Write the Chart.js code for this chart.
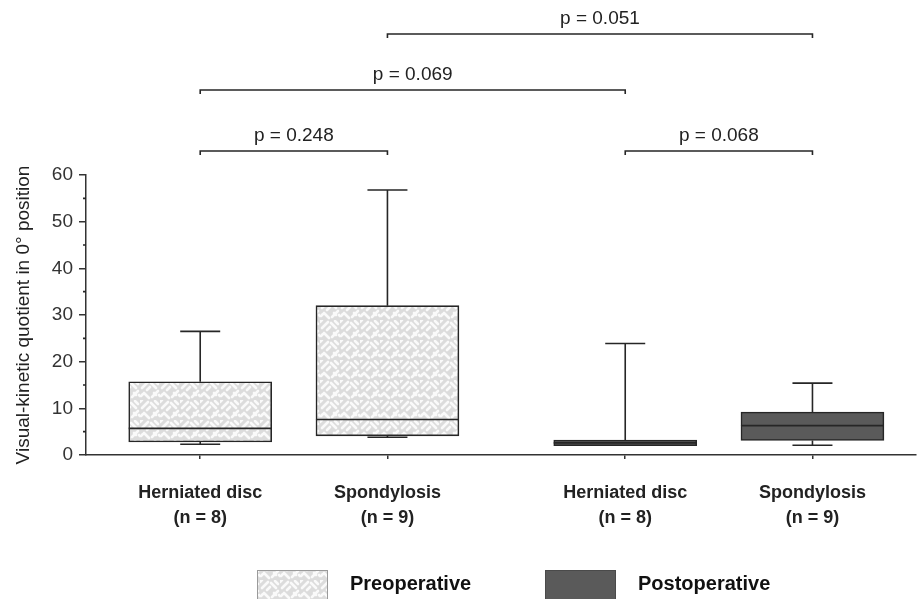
<!DOCTYPE html>
<html>
<head>
<meta charset="utf-8">
<title>Visual-kinetic quotient in 0° position</title>
<script src="https://cdn.jsdelivr.net/npm/chart.js"></script>
<style>
  html, body { margin: 0; padding: 0; background: #fff; }
</style>
</head>
<body>
<canvas id="boxChart" width="917" height="599"></canvas>
<script>
// categories along the x axis
const categories = ['Herniated disc', 'Spondylosis', 'Herniated disc', 'Spondylosis'];
const sampleSizes = ['(n = 8)', '(n = 9)', '(n = 8)', '(n = 9)'];
const groups = ['Preoperative', 'Postoperative'];
const boxGroup = [0, 0, 1, 1];

// box plot values
const whiskerLow  = [2.3, 3.8, 2.0, 2.1];
const quartile1   = [2.8, 4.1, 2.0, 3.1];
const medians     = [5.7, 7.6, 2.6, 6.3];
const quartile3   = [15.7, 32.0, 3.2, 9.2];
const whiskerHigh = [26.5, 56.8, 23.9, 15.4];

// pairwise comparisons (box index from / to) with their p values
const compFrom   = [0, 2, 0, 1];
const compTo     = [1, 3, 2, 3];
const compLabels = ['p = 0.248', 'p = 0.068', 'p = 0.069', 'p = 0.051'];
const compLevel  = [0, 0, 1, 2];

const yMin = 0, yMax = 60, yStep = 10;

const FONT = '"Liberation Sans", Arial, Helvetica, sans-serif';
const groupGap = 0.27;
const xValues = categories.map((c, i) => i + 1 + boxGroup[i] * groupGap);

// grey maze-like texture used for the preoperative boxes
function makeTexture() {
    const n = 20;
    const c = document.createElement('canvas');
    c.width = n; c.height = n;
    const g = c.getContext('2d');
    g.fillStyle = '#dcdcdc';
    g.fillRect(0, 0, n, n);
    g.filter = 'blur(0.5px)';
    g.strokeStyle = '#fafafa';
    g.lineWidth = 2.6;
    g.lineCap = 'round';
    const segs = [
        [2, 8, 8, 2], [11, 3, 16, 8], [4, 13, 9, 18], [12, 17, 18, 11],
        [15, 1, 18, 4], [0, 2, 2, 0], [7, 10, 10, 7], [1, 16, 3, 14],
        [19, 15, 20, 16], [14, 13, 16, 15]
    ];
    g.beginPath();
    segs.forEach(s => { g.moveTo(s[0], s[1]); g.lineTo(s[2], s[3]); });
    g.stroke();
    return g.createPattern(c, 'repeat');
}
const texture = makeTexture();
const postFill = '#5a5a5a';
const ink = '#262626';

// whiskers, medians, brackets and legend drawn with the chart's own scales
const boxExtras = {
    id: 'boxExtras',
    afterDatasetsDraw(chart) {
        const ctx = chart.ctx;
        const xs = chart.scales.x, ys = chart.scales.y;
        const area = chart.chartArea;
        const bars = chart.getDatasetMeta(0).data;
        ctx.save();
        ctx.strokeStyle = ink;
        ctx.lineWidth = 1.6;

        categories.forEach((c, i) => {
            const px = xs.getPixelForValue(xValues[i]);
            const half = bars[i].width / 2;
            const capHalf = 20;
            ctx.beginPath();
            // upper whisker
            ctx.moveTo(px, ys.getPixelForValue(quartile3[i]));
            ctx.lineTo(px, ys.getPixelForValue(whiskerHigh[i]));
            ctx.moveTo(px - capHalf, ys.getPixelForValue(whiskerHigh[i]));
            ctx.lineTo(px + capHalf, ys.getPixelForValue(whiskerHigh[i]));
            // lower whisker
            if (whiskerLow[i] < quartile1[i]) {
                ctx.moveTo(px, ys.getPixelForValue(quartile1[i]));
                ctx.lineTo(px, ys.getPixelForValue(whiskerLow[i]));
                ctx.moveTo(px - capHalf, ys.getPixelForValue(whiskerLow[i]));
                ctx.lineTo(px + capHalf, ys.getPixelForValue(whiskerLow[i]));
            }
            // median
            ctx.moveTo(px - half, ys.getPixelForValue(medians[i]));
            ctx.lineTo(px + half, ys.getPixelForValue(medians[i]));
            ctx.stroke();
        });

        // minor ticks on the y axis
        ctx.beginPath();
        for (let v = yMin + yStep / 2; v < yMax; v += yStep) {
            const py = ys.getPixelForValue(v);
            ctx.moveTo(area.left - 3, py);
            ctx.lineTo(area.left, py);
        }
        ctx.stroke();

        // significance brackets above the plot
        const levelOffset = [24, 85, 141];
        ctx.font = '19px ' + FONT;
        ctx.fillStyle = '#222';
        ctx.textAlign = 'center';
        ctx.textBaseline = 'middle';
        compLabels.forEach((lab, k) => {
            const x1 = xs.getPixelForValue(xValues[compFrom[k]]);
            const x2 = xs.getPixelForValue(xValues[compTo[k]]);
            const by = area.top - levelOffset[compLevel[k]];
            ctx.beginPath();
            ctx.moveTo(x1, by + 4);
            ctx.lineTo(x1, by);
            ctx.lineTo(x2, by);
            ctx.lineTo(x2, by + 4);
            ctx.stroke();
            ctx.fillText(lab, (x1 + x2) / 2, by - 15);
        });

        // legend
        const swatchX = [257, 545];
        const textX = [350, 638];
        ctx.font = 'bold 20px ' + FONT;
        ctx.textAlign = 'left';
        groups.forEach((g, k) => {
            ctx.fillStyle = k === 0 ? texture : postFill;
            ctx.fillRect(swatchX[k], 570, 71, 40);
            ctx.strokeStyle = k === 0 ? '#9a9a9a' : '#4a4a4a';
            ctx.lineWidth = 1;
            ctx.strokeRect(swatchX[k] + 0.5, 570.5, 70, 40);
            ctx.fillStyle = '#111';
            ctx.fillText(g, textX[k], 584);
        });
        ctx.restore();
    }
};

const ctx = document.getElementById('boxChart').getContext('2d');
const boxChart = new Chart(ctx, {
    type: 'bar',
    data: {
        datasets: [{
            label: 'Interquartile range',
            data: categories.map((c, i) => ({ x: xValues[i], y: [quartile1[i], quartile3[i]] })),
            backgroundColor: boxGroup.map(g => g === 0 ? texture : postFill),
            borderColor: ink,
            borderWidth: 1.6,
            borderSkipped: false,
            barThickness: 143,
            grouped: false
        }]
    },
    options: {
        responsive: false,
        animation: false,
        devicePixelRatio: 1,
        layout: { padding: { top: 175, left: 0, right: 1, bottom: 0 } },
        plugins: { legend: { display: false }, tooltip: { enabled: false } },
        scales: {
            x: {
                type: 'linear',
                min: 0.39,
                max: 4.823,
                offset: false,
                afterBuildTicks: s => { s.ticks = xValues.map(v => ({ value: v })); },
                afterFit: s => { s.height = 144; },
                ticks: {
                    callback: (v, i) => [categories[i], sampleSizes[i]],
                    autoSkip: false,
                    maxRotation: 0,
                    padding: 21,
                    color: '#222',
                    font: { family: FONT, size: 18, weight: 'bold', lineHeight: 1.4 }
                },
                grid: { drawOnChartArea: false, offset: false, tickLength: 4, color: '#333', lineWidth: 1.5 },
                border: { color: '#333', width: 1.5 }
            },
            y: {
                min: yMin,
                max: yMax,
                afterFit: s => { s.width = 86; },
                ticks: {
                    stepSize: yStep,
                    padding: 6,
                    color: '#333',
                    font: { family: FONT, size: 19 }
                },
                grid: { drawOnChartArea: false, tickLength: 7, color: '#333', lineWidth: 1.5 },
                border: { color: '#333', width: 1.5 },
                title: {
                    display: true,
                    text: 'Visual-kinetic quotient in 0° position',
                    color: '#222',
                    font: { family: FONT, size: 19 },
                    padding: { top: 12, bottom: 0 }
                }
            }
        }
    },
    plugins: [boxExtras]
});
</script>
</body>
</html>
